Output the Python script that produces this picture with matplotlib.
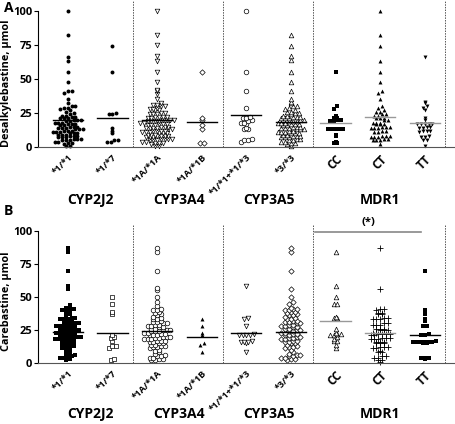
import matplotlib
matplotlib.use("Agg")
import matplotlib.pyplot as plt
import matplotlib.transforms as mtransforms
import numpy as np

plt.rcParams['font.family'] = ['Open Sans', 'DejaVu Sans']
plt.rcParams['font.weight'] = 'bold'

genotypes = ['*1/*1', '*1/*7', '*1A/*1A', '*1A/*1B', '*1/*1+*1/*3', '*3/*3', 'CC', 'CT', 'TT']
genes = ['CYP2J2', 'CYP3A4', 'CYP3A5', 'MDR1']
gene_pos = [1.5, 3.5, 5.5, 8.0]

# panel A: desalkylebastine
desalk = [
    [100, 82, 66, 63, 55, 48, 41, 41, 40, 35, 32, 30, 30, 29, 29, 28, 27, 26, 25, 24,
     23, 23, 22, 22, 21, 21, 21, 20, 20, 20, 19, 19, 18, 18, 18, 17, 17, 17, 16, 16,
     15, 15, 15, 14, 14, 14, 13, 13, 13, 12, 12, 12, 11, 11, 11, 10, 10, 10, 9, 9,
     9, 8, 8, 8, 7, 7, 7, 6, 6, 6, 5, 5, 5, 4, 4, 3, 3, 2, 1, 0.5],
    [74, 55, 25, 24, 24, 14, 12, 10, 5, 4, 4, 5],
    [100, 82, 75, 67, 63, 55, 48, 42, 41, 39, 35, 32, 31, 31, 30, 30, 29, 28, 28, 27, 27,
     25, 25, 24, 24, 24, 22, 22, 22, 22, 21, 21, 20, 20, 20, 20, 19, 19, 19, 19,
     18, 18, 17, 17, 17, 16, 16, 16, 15, 15, 15, 14, 14, 14, 14, 13, 13,
     12, 12, 12, 12, 11, 11, 11, 10, 10, 10, 9, 9, 9, 8, 8, 8, 8, 7,
     7, 7, 6, 6, 6, 6, 5, 5, 5, 4, 4, 3, 3, 3, 2, 1, 1],
    [55, 21, 20, 16, 13, 3, 3],
    [100, 55, 41, 29, 22, 21, 21, 20, 19, 18, 18, 17, 14, 13, 13, 6, 5, 5, 4],
    [82, 74, 67, 64, 55, 48, 41, 35, 33, 32, 30, 30, 29, 28, 27, 26, 26, 25, 25, 24,
     23, 23, 22, 22, 22, 21, 21, 21, 20, 20, 19, 19, 19, 18, 18, 18, 17, 17, 17, 16,
     16, 15, 15, 15, 14, 14, 14, 13, 13, 13, 12, 12, 11, 11, 11, 10, 10, 10, 9, 9,
     8, 8, 8, 7, 7, 7, 6, 6, 5, 5, 4, 4, 3, 3, 2, 1],
    [55, 30, 28, 23, 21, 21, 20, 20, 19, 19, 13, 13, 13, 13, 13, 9, 8, 4, 3, 3],
    [100, 82, 74, 63, 55, 48, 41, 40, 35, 30, 29, 27, 26, 26, 24, 24, 23, 23, 21, 21,
     21, 20, 20, 18, 18, 18, 17, 17, 17, 15, 15, 15, 14, 14, 14, 12, 12, 11, 11, 8,
     8, 8, 7, 7, 7, 6, 6, 5, 5, 5, 2],
    [66, 33, 32, 30, 29, 27, 21, 20, 17, 17, 17, 17, 17, 15, 15, 14, 14, 12, 12, 12,
     11, 8, 7, 7, 5, 5, 1],
]
desalk_mean = [20, 21.3, 20, 18.4, 23.5, 18.6, 17.4, 21.8, 17.9]

# panel B: carebastine
careb = [
    [87, 84, 70, 58, 56, 44, 42, 41, 41, 40, 40, 39, 39, 37, 36, 34, 34, 33, 33, 33,
     32, 31, 31, 30, 30, 30, 29, 29, 28, 28, 27, 27, 26, 26, 26, 25, 25, 24, 24, 24,
     23, 23, 22, 22, 22, 21, 21, 20, 20, 20, 19, 19, 18, 18, 18, 17, 17, 16, 16, 15,
     15, 14, 14, 13, 12, 12, 11, 10, 9, 8, 7, 6, 5, 5, 4, 4, 3, 2],
    [50, 45, 39, 37, 21, 20, 19, 17, 13, 13, 11, 3, 2],
    [87, 84, 70, 57, 55, 50, 46, 43, 41, 40, 40, 39, 38, 37, 36, 35, 34, 33, 33, 32,
     31, 31, 30, 30, 29, 29, 28, 28, 27, 27, 26, 26, 25, 25, 25, 24, 24, 24, 23, 23,
     22, 22, 21, 21, 21, 20, 20, 20, 19, 19, 18, 18, 18, 17, 17, 17, 16, 16, 15, 15,
     14, 14, 13, 13, 12, 12, 11, 10, 9, 8, 7, 6, 5, 5, 4, 4, 3, 3, 2, 2],
    [33, 28, 23, 21, 15, 14, 8],
    [58, 34, 33, 28, 22, 21, 21, 21, 21, 17, 16, 16, 16, 15, 8],
    [87, 84, 70, 56, 50, 46, 45, 42, 41, 41, 40, 40, 39, 39, 38, 37, 36, 36, 35, 34,
     33, 33, 32, 32, 31, 31, 30, 30, 29, 29, 28, 28, 27, 27, 26, 26, 25, 25, 24, 24,
     23, 23, 22, 22, 21, 21, 20, 20, 19, 19, 18, 18, 17, 17, 16, 16, 15, 15, 14, 13,
     12, 12, 11, 10, 8, 7, 6, 6, 5, 5, 4, 4, 3, 3, 2],
    [84, 58, 50, 45, 45, 35, 34, 34, 26, 23, 22, 22, 21, 21, 20, 18, 17, 17, 14, 11],
    [87, 56, 41, 41, 40, 38, 38, 37, 37, 34, 34, 33, 33, 33, 30, 30, 29, 29, 29, 26,
     26, 26, 25, 25, 25, 23, 23, 22, 22, 22, 22, 21, 21, 19, 19, 19, 18, 18, 18, 16,
     16, 16, 15, 15, 15, 12, 12, 12, 11, 11, 9, 8, 8, 5, 5, 4, 4, 2, 2, 1],
    [70, 40, 39, 37, 33, 32, 28, 28, 22, 21, 21, 17, 16, 16, 16, 16, 16, 16, 15, 15,
     4, 4, 3, 4],
]
careb_mean = [23.7, 22.5, 24, 19.9, 22.5, 23.7, 31.8, 22.5, 21]

# (marker, filled) per group
styles_a = [('o', True), ('o', True), ('v', False), ('D', False), ('o', False),
            ('^', False), ('s', True), ('^', True), ('v', True)]
styles_b = [('s', True), ('s', False), ('o', False), ('^', True), ('v', False),
            ('D', False), ('^', False), ('+', True), ('s', True)]
mean_col_a = ['k'] * 6 + ['#999999'] * 3
mean_col_b = ['k'] * 6 + ['#999999', '#999999', 'k']


def swarm(vals, binh=2.4, dx=0.085):
    vals = np.sort(np.asarray(vals, dtype=float))
    bins = np.round(vals / binh)
    xs = np.zeros(len(vals))
    for b in np.unique(bins):
        idx = np.where(bins == b)[0]
        k = len(idx)
        xs[idx] = (np.arange(k) - (k - 1) / 2) * dx
    return xs, vals


def panel(ax, data, means, styles, mcols, ylabel, vtop):
    for i, vals in enumerate(data):
        xo, yv = swarm(vals)
        m, filled = styles[i]
        sz = 8 if m != 'D' else 4.5
        if m == '+':
            ax.scatter(i + 1 + xo, yv, marker='+', s=13, c='k', lw=0.6, clip_on=False)
        elif filled:
            ax.scatter(i + 1 + xo, yv, marker=m, s=sz, c='k', lw=0, clip_on=False)
        else:
            ax.scatter(i + 1 + xo, yv, marker=m, s=sz + 3, facecolors='white',
                       edgecolors='k', lw=0.5, clip_on=False)
        ax.plot([i + 1 - 0.34, i + 1 + 0.34], [means[i], means[i]], color=mcols[i],
                lw=1.0, zorder=3)
    for xv in [2.45, 4.47, 6.49, 9.45]:
        ax.plot([xv, xv], [0, vtop], ls=(0, (1.5, 1.2)), color='#555555', lw=0.7,
                clip_on=False)
    ax.set_xlim(0.33, 9.7)
    ax.set_ylim(0, 100)
    ax.set_yticks([0, 25, 50, 75, 100])
    ax.set_yticklabels(['0', '25', '50', '75', '100'], fontsize=8, fontweight='bold')
    ax.set_xticks(range(1, 10))
    ax.set_xticklabels(genotypes, rotation=45, ha='right', rotation_mode='anchor',
                       fontweight='bold')
    for j, lab in enumerate(ax.get_xticklabels()):
        lab.set_fontsize(8.5 if j >= 6 else 6.7)
    ax.tick_params(axis='x', length=0, pad=4)
    ax.tick_params(axis='y', length=3, width=0.8, pad=1)
    ax.spines['top'].set_visible(False)
    ax.spines['right'].set_visible(False)
    ax.spines['bottom'].set_color('#555555')
    ax.spines['left'].set_bounds(0, 100)
    ax.set_ylabel(ylabel, fontsize=7.8, fontweight='bold')
    ax.yaxis.set_label_coords(-0.062, 0.47)
    trans = mtransforms.blended_transform_factory(ax.transData, ax.transAxes)
    for g, gx in zip(genes, gene_pos):
        ax.text(gx, -0.39, g, transform=trans, ha='center', va='center',
                fontsize=10, fontweight='bold')


fig = plt.figure(figsize=(4.56, 4.24), dpi=100)
ax1 = fig.add_axes([0.0833, 0.6533, 0.9167, 0.3208])
ax2 = fig.add_axes([0.0833, 0.1439, 0.9167, 0.3113])
panel(ax1, desalk, desalk_mean, styles_a, mean_col_a, 'Desalkylebastine, μmol', 107)
panel(ax2, careb, careb_mean, styles_b, mean_col_b, 'Carebastine, μmol', 105)

# significance bar over MDR1 in panel B
ax2.plot([6.54, 8.91], [99, 99], color='#888888', lw=1.2, clip_on=False)
ax2.text(7.73, 102, '(*)', ha='center', va='bottom', fontsize=8, fontweight='bold')

fig.text(0.008, 0.982, 'A', fontsize=10, fontweight='bold', va='center')
fig.text(0.008, 0.503, 'B', fontsize=10, fontweight='bold', va='center')

fig.savefig('out.png', dpi=100)
